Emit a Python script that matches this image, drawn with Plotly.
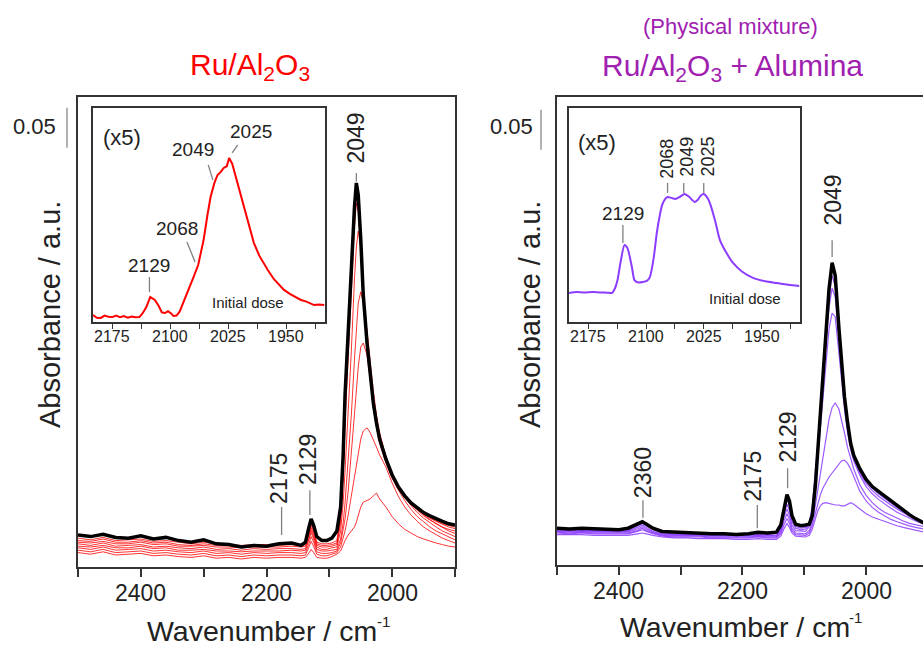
import plotly.graph_objects as go

W, H = 923, 648
def px(x): return x / W
def py(y): return 1 - y / H

# ---------------- DATA ----------------
# Left panel: Ru/Al2O3  (wavenumber grid, cm-1)
WN_L = [2500, 2480, 2460, 2440, 2420, 2400, 2380, 2360, 2340, 2320, 2300, 2280, 2260, 2240, 2220, 2200, 2180, 2160,
        2145, 2138, 2133, 2129, 2125, 2120, 2112, 2104, 2096,
        2088, 2082, 2078, 2075, 2070, 2065, 2060, 2057, 2054, 2050, 2046, 2040, 2035, 2030, 2025, 2020,
        2010, 2000, 1990, 1980, 1970, 1960, 1950, 1940, 1930, 1920, 1910, 1900]

RU_FINAL = [.040, .038, .041, .037, .036, .039, .035, .037, .033, .031, .034, .029, .028, .025, .027, .026, .029, .030,
            .027, .031, .048, .060, .052, .038, .033, .033, .036,
            .045, .075, .14, .215, .295, .37, .45, .48, .465, .41, .34, .28, .24, .205, .18, .16,
            .135, .115, .1, .089, .08, .074, .068, .064, .06, .057, .054, .0525]

RU_DOSE_1 = [.018, .016, .019, .015, .016, .017, .014, .015, .013, .012, .014, .011, .012, .010, .012, .011, .012, .012,
             .011, .012, .017, .022, .018, .012, .011, .011, .013,
             .016, .02, .028, .033, .04, .045, .05, .056, .065, .075, .081, .083, .085, .089, .0925, .085,
             .075, .063, .054, .047, .042, .038, .035, .032, .03, .028, .026, .025]
RU_DOSE_2 = [.021, .019, .022, .018, .019, .020, .017, .018, .016, .015, .017, .014, .015, .013, .015, .014, .015, .015,
             .014, .015, .024, .032, .026, .016, .014, .014, .016,
             .018, .025, .035, .045, .065, .09, .115, .13, .145, .16, .17, .174, .168, .16, .15, .14,
             .125, .105, .088, .075, .065, .057, .05, .045, .04, .036, .033, .03]
RU_DOSE_3 = [.024, .022, .025, .021, .022, .023, .020, .021, .019, .018, .020, .017, .018, .016, .018, .017, .018, .018,
             .017, .018, .028, .038, .031, .019, .017, .017, .018,
             .02, .03, .045, .06, .095, .14, .19, .22, .25, .275, .28, .265, .235, .205, .18, .16,
             .132, .112, .096, .083, .072, .063, .056, .05, .045, .041, .037, .034]
RU_DOSE_4 = [.026, .025, .027, .024, .024, .026, .023, .024, .021, .021, .022, .020, .020, .019, .020, .020, .020, .021,
             .02, .021, .032, .043, .035, .022, .02, .02, .021,
             .022, .035, .055, .08, .13, .19, .26, .30, .33, .344, .33, .295, .255, .22, .19, .168,
             .138, .117, .1, .087, .077, .068, .061, .055, .05, .045, .041, .038]
RU_DOSE_5 = [.029, .027, .030, .026, .027, .028, .025, .026, .024, .023, .025, .022, .023, .021, .023, .022, .023, .023,
             .022, .023, .035, .046, .038, .025, .022, .022, .024,
             .025, .045, .08, .12, .19, .27, .36, .40, .42, .40, .35, .29, .245, .21, .185, .165,
             .137, .117, .101, .09, .08, .072, .065, .059, .054, .049, .045, .042]
RU_DOSE_6 = [.031, .030, .032, .029, .029, .031, .028, .029, .026, .026, .027, .025, .025, .024, .025, .025, .025, .026,
             .025, .026, .038, .049, .041, .027, .025, .025, .026,
             .028, .055, .11, .18, .265, .345, .425, .455, .445, .395, .33, .275, .232, .198, .175, .155,
             .13, .111, .097, .087, .078, .071, .064, .059, .054, .05, .047, .045]
RU_DOSE_7 = [.033, .032, .035, .031, .031, .033, .030, .031, .028, .027, .029, .027, .027, .025, .027, .026, .027, .028,
             .027, .028, .041, .052, .044, .029, .027, .027, .028,
             .03, .06, .12, .195, .28, .355, .44, .468, .455, .403, .335, .28, .236, .2, .177, .157,
             .132, .113, .098, .088, .079, .072, .066, .061, .057, .053, .05, .048]
RU_DOSE_8 = [.036, .034, .037, .033, .034, .035, .032, .033, .031, .029, .031, .029, .028, .027, .028, .028, .029, .029,
             .028, .030, .044, .055, .047, .031, .029, .029, .030,
             .033, .065, .13, .205, .288, .362, .445, .475, .46, .406, .337, .283, .238, .202, .178, .158,
             .133, .114, .099, .089, .08, .073, .067, .062, .058, .054, .052, .05]

# Left inset: initial dose (x5)
WN_IN_L = [2200, 2195, 2190, 2185, 2180, 2175, 2170, 2165, 2160, 2155, 2150, 2145, 2140, 2136, 2131, 2126, 2120, 2115,
           2111, 2107, 2103, 2099, 2096, 2092, 2088, 2082, 2075, 2070, 2064, 2057, 2052, 2048, 2043, 2039, 2035, 2031,
           2027, 2024, 2020, 2017, 2013, 2008, 2002, 1997, 1992, 1985, 1979, 1974, 1966, 1960, 1953, 1945, 1938, 1931,
           1924, 1918, 1914, 1908, 1901]
AB_IN_L = [.033, .02, .019, .03, .025, .023, .03, .022, .028, .02, .026, .022, .023, .04, .07, .117, .103, .075,
           .045, .042, .05, .04, .028, .03, .048, .1, .164, .21, .266, .383, .5, .584, .65, .687, .7, .72,
           .728, .766, .74, .7, .65, .58, .49, .43, .37, .31, .27, .243, .2, .175, .15, .13, .115, .103,
           .095, .085, .079, .082, .079]

# Right panel: Ru/Al2O3 + Alumina
WN_R = [2500, 2480, 2460, 2440, 2420, 2400, 2385, 2370, 2362, 2355, 2345,
        2330, 2310, 2290, 2270, 2250, 2230, 2210, 2190, 2175, 2160, 2145,
        2138, 2133, 2128, 2124, 2120, 2114, 2105, 2098,
        2092, 2087, 2082, 2078, 2074, 2070, 2065, 2060, 2055, 2050, 2044, 2040, 2035, 2030, 2025, 2020,
        2010, 2000, 1990, 1980, 1970, 1960, 1950, 1940, 1930, 1920, 1910, 1900]

MIX_FINAL = [.046, .045, .046, .045, .045, .044, .046, .051, .054, .051, .046,
             .042, .041, .040, .040, .039, .039, .038, .039, .041, .040, .041,
             .05, .072, .088, .08, .062, .051, .049, .05,
             .051, .062, .1, .145, .19, .225, .295, .345, .378, .362, .296, .252, .21, .178, .152, .137,
             .12, .107, .098, .092, .086, .08, .074, .068, .063, .058, .054, .05]
MIX_DOSE_1 = [.038, .038, .038, .037, .037, .037, .037, .039, .04, .039, .037,
              .035, .034, .034, .033, .033, .033, .032, .032, .033, .032, .032,
              .036, .045, .052, .047, .04, .036, .035, .035,
              .037, .045, .058, .068, .074, .077, .078, .077, .076, .075, .075, .074, .074, .076, .078, .076,
              .07, .064, .06, .057, .054, .051, .049, .047, .045, .043, .041, .04]
MIX_DOSE_2 = [.04, .039, .04, .039, .039, .039, .039, .042, .044, .042, .039,
              .036, .035, .035, .035, .034, .034, .034, .034, .035, .034, .034,
              .039, .05, .058, .052, .043, .038, .037, .037,
              .04, .05, .065, .078, .088, .096, .104, .11, .115, .12, .126, .13, .131, .127, .12, .11,
              .092, .08, .072, .066, .061, .057, .054, .051, .049, .047, .045, .044]
MIX_DOSE_3 = [.041, .04, .041, .04, .04, .04, .04, .043, .046, .043, .04,
              .037, .036, .036, .036, .035, .035, .035, .035, .036, .035, .035,
              .041, .055, .064, .057, .046, .04, .039, .039,
              .043, .055, .075, .095, .115, .135, .16, .182, .197, .2025, .195, .183, .165, .147, .132, .12,
              .1, .087, .078, .071, .066, .062, .058, .055, .052, .05, .048, .047]
MIX_DOSE_4 = [.042, .041, .042, .041, .041, .041, .041, .045, .048, .045, .041,
              .038, .037, .037, .037, .036, .036, .036, .036, .037, .036, .036,
              .043, .06, .07, .062, .05, .043, .042, .042,
              .048, .065, .1, .135, .17, .205, .255, .295, .315, .31, .265, .23, .195, .165, .145, .13,
              .112, .098, .089, .082, .076, .071, .066, .062, .058, .055, .052, .05]
MIX_DOSE_5 = [.043, .042, .043, .042, .042, .042, .042, .047, .05, .047, .042,
              .039, .038, .038, .038, .037, .037, .037, .037, .038, .037, .037,
              .045, .064, .076, .068, .054, .046, .044, .045,
              .05, .07, .11, .148, .185, .22, .277, .322, .346, .335, .28, .24, .202, .171, .148, .133,
              .115, .102, .093, .086, .08, .075, .07, .065, .061, .057, .053, .05]
MIX_DOSE_6 = [.044, .043, .044, .043, .043, .043, .043, .049, .052, .049, .044,
              .04, .039, .039, .039, .038, .038, .038, .038, .039, .038, .039,
              .047, .068, .082, .074, .058, .048, .046, .047,
              .052, .074, .115, .155, .19, .225, .287, .335, .362, .348, .288, .246, .206, .174, .15, .135,
              .118, .105, .096, .089, .083, .077, .072, .067, .062, .058, .054, .051]

# Right inset: initial dose (x5)
WN_IN_R = [2200, 2190, 2180, 2169, 2160, 2150, 2144, 2140, 2137, 2133, 2128, 2124, 2121, 2118, 2115, 2110, 2104,
           2099, 2095, 2090, 2086, 2082, 2079, 2075, 2072, 2067, 2062, 2056, 2050, 2044, 2040, 2037, 2033, 2029,
           2025, 2021, 2017, 2010, 2004, 1995, 1987, 1975, 1961, 1945, 1930, 1915, 1901]
AB_IN_R = [.136, .14, .138, .14, .138, .137, .136, .16, .196, .28, .36, .345, .304, .25, .196, .185, .187,
           .192, .21, .3, .416, .5, .547, .575, .584, .58, .575, .585, .598, .585, .57, .561, .57, .59,
           .598, .585, .556, .47, .383, .32, .276, .235, .206, .19, .182, .174, .168]

MAIN_LABEL_TICKS = [2400, 2200, 2000]
MAIN_LABELS = ["2400", "2200", "2000"]
MAIN_MINOR_TICKS = [2500, 2300, 2100, 1900]
INSET_TICKS = [2175, 2100, 2025, 1950]
INSET_LABELS = ["2175", "2100", "2025", "1950"]
INSET_MINOR_TICKS = [2137.5, 2062.5, 1987.5, 1912.5]

RED_DOSES = [RU_DOSE_1, RU_DOSE_2, RU_DOSE_3, RU_DOSE_4, RU_DOSE_5, RU_DOSE_6, RU_DOSE_7, RU_DOSE_8]
PURPLE_DOSES = [MIX_DOSE_1, MIX_DOSE_2, MIX_DOSE_3, MIX_DOSE_4, MIX_DOSE_5, MIX_DOSE_6]

# ---------------- FIGURE ----------------
FONT = "Liberation Sans, Arial, Helvetica, sans-serif"
RED = "#ff0000"
PURPLE_LINE = "rgba(140,60,255,0.85)"
PURPLE_INSET = "#8c3cff"
TITLE_PURPLE = "#a020b0"
AXC = "#333333"

fig = go.Figure()

for ys in RED_DOSES:
    fig.add_trace(go.Scatter(x=WN_L, y=ys, mode="lines", line=dict(color="rgba(255,0,0,0.8)", width=1),
                             xaxis="x", yaxis="y", hoverinfo="skip", showlegend=False))
fig.add_trace(go.Scatter(x=WN_L, y=RU_FINAL, mode="lines", line=dict(color="black", width=3.5),
                         xaxis="x", yaxis="y", hoverinfo="skip", showlegend=False))

for ys in PURPLE_DOSES:
    fig.add_trace(go.Scatter(x=WN_R, y=ys, mode="lines", line=dict(color=PURPLE_LINE, width=1.2),
                             xaxis="x2", yaxis="y2", hoverinfo="skip", showlegend=False))
fig.add_trace(go.Scatter(x=WN_R, y=MIX_FINAL, mode="lines", line=dict(color="black", width=3.5),
                         xaxis="x2", yaxis="y2", hoverinfo="skip", showlegend=False))

fig.add_trace(go.Scatter(x=WN_IN_L, y=AB_IN_L, mode="lines", line=dict(color=RED, width=2),
                         xaxis="x3", yaxis="y3", hoverinfo="skip", showlegend=False))
fig.add_trace(go.Scatter(x=WN_IN_R, y=AB_IN_R, mode="lines",
                         line=dict(color=PURPLE_INSET, width=2, shape="spline", smoothing=0.6),
                         xaxis="x4", yaxis="y4", hoverinfo="skip", showlegend=False))

main_x = dict(showline=True, linecolor=AXC, linewidth=2, mirror=True, ticks="outside", ticklen=8, tickwidth=1.5,
              tickcolor=AXC, tickvals=MAIN_LABEL_TICKS, showticklabels=False,
              minor=dict(tickvals=MAIN_MINOR_TICKS, ticks="outside", ticklen=8, tickwidth=1.5, tickcolor=AXC,
                         showgrid=False),
              showgrid=False, zeroline=False)
main_y = dict(showline=True, linecolor=AXC, linewidth=2, showticklabels=False, ticks="", showgrid=False,
              zeroline=False)
inset_x = dict(showline=True, linecolor=AXC, linewidth=1.5, mirror=True, ticks="outside", ticklen=5, tickwidth=1.2,
               tickcolor=AXC, tickvals=INSET_TICKS, showticklabels=False,
               minor=dict(tickvals=INSET_MINOR_TICKS, ticks="outside", ticklen=5, tickwidth=1.2, tickcolor=AXC,
                          showgrid=False),
               showgrid=False, zeroline=False, range=[2200, 1900])
inset_y = dict(showline=True, linecolor=AXC, linewidth=1.5, mirror=True, showticklabels=False, ticks="",
               showgrid=False, zeroline=False, range=[0, 1])

fig.update_layout(
    width=W, height=H, margin=dict(l=0, r=0, t=0, b=0),
    paper_bgcolor="white", plot_bgcolor="white",
    font=dict(family=FONT, color="#222"),
    xaxis=dict(main_x, domain=[px(78), px(455)], range=[2500, 1900], anchor="y"),
    yaxis=dict(main_y, domain=[py(567), py(97)], range=[0, 0.5875], mirror=True, anchor="x"),
    xaxis2=dict(main_x, domain=[px(557), 1.0], range=[2500, 1908], anchor="y2"),
    yaxis2=dict(main_y, domain=[py(565), py(97)], range=[0, 0.585], mirror=False, anchor="x2"),
    xaxis3=dict(inset_x, domain=[px(93), px(325)], anchor="y3"),
    yaxis3=dict(inset_y, domain=[py(322), py(108)], anchor="x3"),
    xaxis4=dict(inset_x, domain=[px(569), px(800)], anchor="y4"),
    yaxis4=dict(inset_y, domain=[py(322), py(108)], anchor="x4"),
)

ann = []
shapes = []

def paper_text(text, x, y, size, color="#222", angle=0, xanchor="center"):
    ann.append(dict(text=text, x=px(x), y=py(y), xref="paper", yref="paper", showarrow=False,
                    font=dict(size=size, color=color, family=FONT), textangle=angle,
                    xanchor=xanchor, yanchor="middle"))

def data_text(text, x, y, ax, size, angle=0):
    ann.append(dict(text=text, x=x, y=y, xref=ax[0], yref=ax[1], showarrow=False,
                    font=dict(size=size, color="#222", family=FONT), textangle=angle,
                    xanchor="center", yanchor="middle"))

def tick_text(text, x, xref, ypix, size):
    ann.append(dict(text=text, x=x, y=py(ypix), xref=xref, yref="paper", showarrow=False,
                    font=dict(size=size, color="#222", family=FONT), xanchor="center", yanchor="middle"))

def data_line(x0, y0, x1, y1, ax):
    shapes.append(dict(type="line", x0=x0, y0=y0, x1=x1, y1=y1, xref=ax[0], yref=ax[1],
                       line=dict(color="#808080", width=1.3)))

# Tick labels
for v, t in zip(MAIN_LABEL_TICKS, MAIN_LABELS):
    tick_text(t, v, "x", 593, 23)
    tick_text(t, v, "x2", 591, 23)
for v, t in zip(INSET_TICKS, INSET_LABELS):
    tick_text(t, v, "x3", 336, 16)
    tick_text(t, v, "x4", 336, 16)

# Titles
paper_text("Ru/Al<sub>2</sub>O<sub>3</sub>", 250, 66, 30, RED)
paper_text("(Physical mixture)", 730, 27, 22, TITLE_PURPLE)
paper_text("Ru/Al<sub>2</sub>O<sub>3</sub> + Alumina", 732, 67, 30, TITLE_PURPLE)

# Axis titles
paper_text("Wavenumber / cm", 262, 631, 28.5)
paper_text("-1", 383, 621, 15)
paper_text("Wavenumber / cm", 735, 627, 28.5)
paper_text("-1", 855, 617, 15)
paper_text("Absorbance / a.u.", 50, 315, 29, angle=-90)
paper_text("Absorbance / a.u.", 530, 315, 29, angle=-90)

# Scale bars
paper_text("0.05", 58, 127, 22, xanchor="right")
paper_text("0.05", 535, 127, 22, xanchor="right")
shapes.append(dict(type="line", xref="paper", yref="y", x0=px(67), x1=px(67), y0=0.524, y1=0.574,
                   line=dict(color="#999", width=1.5)))
shapes.append(dict(type="line", xref="paper", yref="y2", x0=px(541), x1=px(541), y0=0.519, y1=0.569,
                   line=dict(color="#999", width=1.5)))

# Left main labels
L = ("x", "y")
data_text("2049", 2057, 0.536, L, 23, -90)
data_line(2057, 0.4925, 2057, 0.482, L)
data_text("2175", 2179, 0.111, L, 23, -90)
data_line(2176, 0.075, 2176, 0.04, L)
data_text("2129", 2134, 0.135, L, 23, -90)
data_line(2131, 0.096, 2131, 0.065, L)

# Right main labels
R = ("x2", "y2")
data_text("2360", 2361, 0.116, R, 23, -90)
data_line(2361, 0.081, 2361, 0.059, R)
data_text("2175", 2182, 0.111, R, 23, -90)
data_line(2176, 0.075, 2176, 0.046, R)
data_text("2129", 2127, 0.16, R, 23, -90)
data_line(2127, 0.121, 2127, 0.096, R)
data_text("2049", 2053, 0.456, R, 23, -90)
data_line(2055, 0.406, 2055, 0.385, R)

# Left inset labels
I1 = ("x3", "y3")
data_text("(x5)", 2163, 0.86, I1, 22)
data_text("2025", 1996, 0.888, I1, 19)
data_line(2013, 0.827, 2020, 0.79, I1)
data_text("2049", 2071, 0.804, I1, 19)
data_line(2051, 0.734, 2045, 0.664, I1)
data_text("2068", 2092, 0.439, I1, 19)
data_line(2078.5, 0.374, 2068, 0.28, I1)
data_text("2129", 2127, 0.266, I1, 19)
data_line(2127, 0.21, 2127, 0.14, I1)
data_text("Initial dose", 2000, 0.093, I1, 15)

# Right inset labels
I2 = ("x4", "y4")
data_text("(x5)", 2163, 0.841, I2, 22)
data_text("2129", 2130, 0.509, I2, 19)
data_line(2130, 0.453, 2130, 0.369, I2)
data_text("2068", 2073, 0.762, I2, 18, -90)
data_line(2072, 0.65, 2072, 0.603, I2)
data_text("2049", 2047, 0.771, I2, 18, -90)
data_line(2051, 0.65, 2051, 0.603, I2)
data_text("2025", 2020, 0.771, I2, 18, -90)
data_line(2025, 0.65, 2025, 0.603, I2)
data_text("Initial dose", 1972, 0.112, I2, 15)

fig.update_layout(annotations=ann, shapes=shapes)
fig.write_html("out.html")
